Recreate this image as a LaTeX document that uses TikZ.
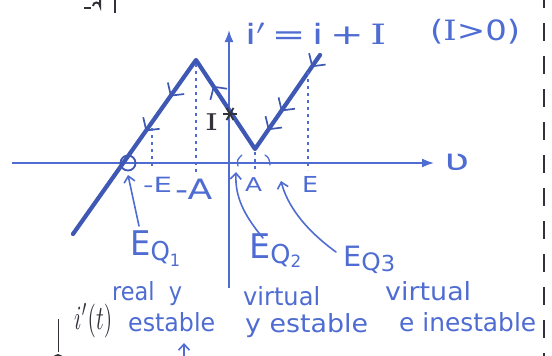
\documentclass[tikz,border=0pt]{standalone}
\usepackage{fontspec}
\setsansfont{DejaVu Sans}
\newfontfamily\serI{DejaVu Serif}
\usetikzlibrary{arrows.meta,decorations.markings}
\definecolor{penc}{RGB}{78,108,210}
\definecolor{penD}{RGB}{62,88,180}
\definecolor{ink}{RGB}{50,50,58}
\newcommand{\hw}[3]{\resizebox{#1}{\height}{\fontsize{#2}{#2}\selectfont #3}}
\begin{document}
\begin{tikzpicture}[x=1pt,y=-1pt,
  pen/.style={draw=penc, line width=1.6pt, line cap=round},
  axisline/.style={draw=penc, line width=1.8pt, -{Latex[length=12pt,width=9pt]}},
  branch/.style={draw=penD, line width=4.2pt, line join=round, line cap=round},
  guide/.style={draw=penc, line width=1.3pt, dash pattern=on 3pt off 4pt},
  hand/.style={text=penc, inner sep=0pt, anchor=base west, font=\sffamily},
  barb/.style={-{Straight Barb[length=6pt,width=11pt]}},
  chev/.style={decorate, decoration={markings, #1}},
  chevtip/.style={penD, line width=1.7pt},
]
\useasboundingbox (0,0) rectangle (552,356);

% axes
\coordinate (vL) at (12,163);
\coordinate (vR) at (434,163);
\coordinate (iB) at (229,288);
\coordinate (iT) at (229,30);
\draw[axisline] (vL) -- (vR);
\draw[axisline] (iB) -- (iT);

% characteristic
\coordinate (P0) at (73,234);
\coordinate (P1) at (196,60);
\coordinate (P2) at (255,149);
\coordinate (P3) at (320,55);
\draw[branch] (P0) -- (P1) -- (P2) -- (P3);

% direction chevrons
\path[chev={mark=at position 0.21 with {\arrow[chevtip]{Straight Barb[length=9pt,width=20pt]}},
            mark=at position 0.41 with {\arrow[chevtip]{Straight Barb[length=9pt,width=20pt]}}}] (P1) -- (P0);
\path[chev={mark=at position 0.71 with {\arrow[chevtip]{Straight Barb[length=9pt,width=20pt]}}}] (P2) -- (P1);
\path[chev={mark=at position 0.13 with {\arrow[chevtip]{Straight Barb[length=9pt,width=20pt]}},
            mark=at position 0.60 with {\arrow[chevtip]{Straight Barb[length=9pt,width=20pt]}},
            mark=at position 0.80 with {\arrow[chevtip]{Straight Barb[length=9pt,width=20pt]}}}] (P3) -- (P2);

% guides
\coordinate (gE1) at (152,128); \coordinate (gE1b) at (152,168);
\coordinate (gA1) at (196,64);  \coordinate (gA1b) at (196,172);
\coordinate (gA2) at (255,152); \coordinate (gA2b) at (255,170);
\coordinate (gE2) at (308,72);  \coordinate (gE2b) at (308,170);
\draw[guide] (gE1) -- (gE1b);
\draw[guide] (gA1) -- (gA1b);
\draw[guide] (gA2) -- (gA2b);
\draw[guide] (gE2) -- (gE2b);

% equilibrium circle and star
\coordinate (eq1pt) at (128,163);
\draw[draw=penD, line width=1.8pt] (eq1pt) circle (7.5);
\coordinate (star) at (230,114);
\foreach \a in {0,60,120}
  \draw[ink, line width=1.8pt] (star) ++(\a:7) -- ++(\a+180:14);

% axis labels
\node[hand] (lab) at (245,44) {\hw{141pt}{28}{i$'$\,=\,i\,+\,{\serI I}}};
\node[hand] (cond) at (430,40) {\hw{90pt}{28}{({\serI I}>0)}};
\node[hand] (vlab) at (444,170) {\hw{25pt}{30}{ʋ}};
\node[hand] (mE) at (143,192) {\hw{29pt}{21}{-E}};
\node[hand] (mA) at (175,199) {\hw{37pt}{28}{-A}};
\node[hand] (pA) at (245,191) {\hw{17pt}{19}{A}};
\node[hand] (pE) at (302,192) {\hw{16pt}{22}{E}};
\node[hand, text=ink] (Ilab) at (205,130) {\hw{13pt}{23}{\serI I}};

% equilibrium labels
\node[hand] (eq1) at (130,255) {\hw{50pt}{34}{E{\fontsize{26}{26}\selectfont\raisebox{-5pt}{Q}}{\fontsize{17}{17}\selectfont\raisebox{-11pt}{1}}}};
\node[hand] (real) at (112,300) {\hw{70pt}{25}{real\ \ y}};
\node[hand] (est1) at (128,331) {\hw{87pt}{25}{estable}};
\node[hand] (eq2) at (249,258) {\hw{52pt}{34}{E{\fontsize{26}{26}\selectfont\raisebox{-5pt}{Q}}{\fontsize{17}{17}\selectfont\raisebox{-9pt}{2}}}};
\node[hand] (virt1) at (243,305) {\hw{77pt}{25}{virtual}};
\node[hand] (est2) at (245,332) {\hw{123pt}{25}{y estable}};
\node[hand] (eq3) at (343,266) {\hw{52pt}{28}{E{\fontsize{24}{24}\selectfont\raisebox{-4pt}{Q}}{\fontsize{22}{22}\selectfont\raisebox{-5pt}{3}}}};
\node[hand] (virt2) at (385,300) {\hw{86pt}{25}{virtual}};
\node[hand] (inest) at (399,331) {\hw{137pt}{25}{e inestable}};

% annotation arrows
\coordinate (a1s) at (139,226);
\coordinate (a1e) at (128,175);
\draw[pen, barb] (a1s) -- (a1e);
\coordinate (a2s) at (263,238);
\coordinate (a2e) at (236,172);
\draw[pen, barb] (a2s) .. controls (243,214) and (235,196) .. (a2e);
\coordinate (a2t) at (238,166);
\coordinate (a2u) at (242,155);
\draw[pen, line width=1.3pt] (a2t) .. controls (237,160) .. (a2u);
\coordinate (a3s) at (336,252);
\coordinate (a3e) at (281,181);
\draw[pen, barb] (a3s) .. controls (303,228) and (287,204) .. (a3e);
\coordinate (a3t) at (265,155);
\coordinate (a3u) at (270,165);
\draw[pen, line width=1.3pt] (a3t) .. controls (269,158) .. (a3u);

% black fragments
\node[anchor=base west, inner sep=0pt, text=ink] (it) at (74,329) {\resizebox*{38pt}{34pt}{$i'(t)$}};
\coordinate (bl1) at (58,319); \coordinate (bl2) at (58,352);
\draw[ink, line width=1pt] (bl1) -- (bl2);
\fill[ink] (58,359) circle (5);
\coordinate (ba1) at (184,362); \coordinate (ba2) at (184,343);
\draw[pen, barb] (ba1) -- (ba2);
\coordinate (rd1) at (544,-10); \coordinate (rd2) at (544,362);
\draw[ink, line width=2.6pt, dash pattern=on 18pt off 15pt] (rd1) -- (rd2);
\coordinate (tb1) at (115,-2); \coordinate (tb2) at (115,13);
\draw[ink, line width=1.4pt] (tb1) -- (tb2);
\draw[ink, line width=2pt] (84,8) -- (91,8);
\draw[ink, line width=2pt] (100,-2) -- (100,6) arc (0:-180:3.5);
\end{tikzpicture}
\end{document}
